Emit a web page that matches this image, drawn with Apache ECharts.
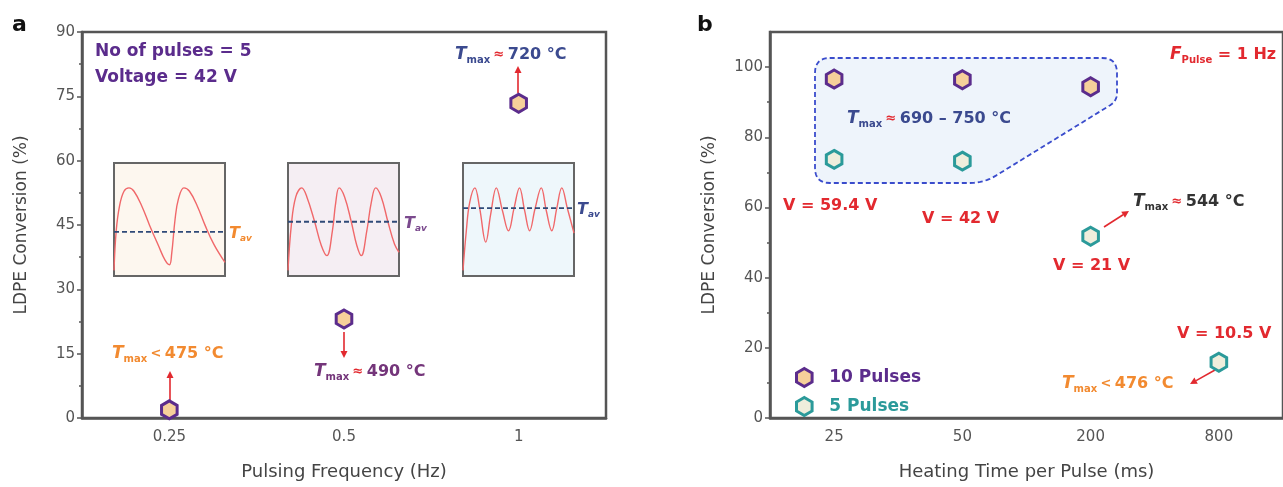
<!DOCTYPE html>
<html>
<head>
<meta charset="utf-8">
<script src="https://cdn.jsdelivr.net/npm/echarts@6/dist/echarts.min.js"></script>
<style>
  html, body { margin: 0; padding: 0; background: #fff; }
  #chart { width: 1283px; height: 487px; }
</style>
</head>
<body>
<div id="chart"></div>
<script>
// ----- panel a : conversion vs pulsing frequency -----
const freqCats = ['0.25', '0.5', '1'];
const freqConv = [1.9, 23.1, 73.4];
const yTicksA = { min: 0, max: 90, interval: 15 };

// ----- panel b : conversion vs heating time per pulse -----
const timeCats = ['25', '50', '200', '800'];
const conv10 = [96.6, 96.4, 94.4, null];
const conv5 = [73.7, 73.2, 51.8, 15.9];
const yTicksB = { min: 0, max: 110, interval: 20 };
const yLabelsB = [0, 20, 40, 60, 80, 100];

// ----- insets : temperature traces (0-100 box units) -----
const wave1 = [[0,5],[2,40],[5,62],[9,75],[13.5,78],[18,75],[25,62],[32,45],[40,27],[46,14],[50,10],
  [52,20],[55,50],[58,68],[63,78],[68,75],[75,62],[82,45],[90,28],[100,12]];
const wave2 = [[0,5],[3,45],[7,70],[12.4,78],[17,70],[24,48],[30,27],[35,18],[40,40],[43,65],[46,78],
  [51,70],[57,48],[62,27],[66,18],[71,40],[75,65],[79,78],[84,70],[90,48],[96,28],[100,21]];
const wave3 = [[0,5],[3,40],[6,65],[10.7,78],[15,60],[20.5,30],[25,55],[30,78],[35.5,58],[41,40],
  [46,60],[50.9,78],[55.5,58],[60,40],[65,60],[70.5,78],[75,58],[80,40],[84.5,60],[89,78],[94,60],[100,38]];
const tavLevels = [39, 48, 60];

const HEX = 'path://M0,-1 L0.866,-0.5 L0.866,0.5 L0,1 L-0.866,0.5 L-0.866,-0.5 Z';
const FONT = '"DejaVu Sans", sans-serif';
const AXIS = '#555';
const PURPLE = '#5b2c8c', TEAL = '#2b9a9a', RED = '#e2292f', ORANGE = '#f28a30', NAVY = '#3b4a8f';

const chart = echarts.init(document.getElementById('chart'));

function mainX(idx, cats, name) {
  return {
    type: 'category', gridIndex: idx, data: cats, boundaryGap: true,
    name: name, nameLocation: 'middle', nameGap: 45,
    nameTextStyle: { fontFamily: FONT, fontSize: 18, color: '#444' },
    axisLine: { lineStyle: { color: AXIS, width: 2.5 } },
    axisTick: { alignWithLabel: true, length: 5, lineStyle: { color: AXIS, width: 1.5 } },
    axisLabel: { fontFamily: FONT, fontSize: 15, color: '#555', margin: 12 }
  };
}
function mainY(idx, t, customTicks) {
  const ax = {
    type: 'value', gridIndex: idx, min: t.min, max: t.max, interval: t.interval,
    name: 'LDPE Conversion (%)', nameLocation: 'middle', nameGap: 52,
    nameTextStyle: { fontFamily: FONT, fontSize: 17, color: '#444' },
    axisLine: { show: true, lineStyle: { color: AXIS, width: 2.5 } },
    axisTick: { show: true, length: 5, lineStyle: { color: AXIS, width: 1.5 } },
    minorTick: { show: true, splitNumber: 2, length: 3, lineStyle: { color: AXIS, width: 1.5 } },
    splitLine: { show: false },
    axisLabel: { fontFamily: FONT, fontSize: 15, color: '#555', margin: 7 }
  };
  if (customTicks) {
    ax.axisTick.customValues = customTicks;
    ax.axisLabel.customValues = customTicks;
  }
  return ax;
}
function insetAxes(idx) {
  return [
    { type: 'value', gridIndex: idx, min: 0, max: 100, show: false },
    { type: 'value', gridIndex: idx, min: 0, max: 100, show: false }
  ];
}

const insetBoxes = [
  { left: 114, bg: '#fdf7ef' },
  { left: 288, bg: '#f5eef3' },
  { left: 463, bg: '#eef7fb' }
];
const waves = [wave1, wave2, wave3];

const grids = [
  { left: 82, top: 32, width: 524, height: 386, show: true, borderColor: AXIS, borderWidth: 2.5 },
  { left: 770, top: 32, width: 520, height: 386, show: true, borderColor: AXIS, borderWidth: 2.5 }
];
insetBoxes.forEach(b => grids.push({ left: b.left, top: 163, width: 111, height: 113, show: true,
  backgroundColor: b.bg, borderColor: '#666', borderWidth: 2, z: 1 }));

const xAxes = [mainX(0, freqCats, 'Pulsing Frequency (Hz)'), mainX(1, timeCats, 'Heating Time per Pulse (ms)')];
const yAxes = [mainY(0, yTicksA), mainY(1, yTicksB, yLabelsB)];
for (let i = 0; i < 3; i++) {
  const [ax, ay] = insetAxes(i + 2);
  xAxes.push(ax); yAxes.push(ay);
}

const hexStyle = (fill, stroke) => ({ color: fill, borderColor: stroke, borderWidth: 3, opacity: 1 });
const series = [
  { type: 'scatter', name: 'a', xAxisIndex: 0, yAxisIndex: 0, data: freqConv, symbol: HEX, symbolKeepAspect: true,
    symbolSize: 18, itemStyle: hexStyle('#f6d09a', PURPLE), z: 5 },
  { type: 'scatter', name: '10 Pulses', xAxisIndex: 1, yAxisIndex: 1, data: conv10, symbol: HEX, symbolKeepAspect: true,
    symbolSize: 18, itemStyle: hexStyle('#f6d09a', PURPLE), z: 5 },
  { type: 'scatter', name: '5 Pulses', xAxisIndex: 1, yAxisIndex: 1, data: conv5, symbol: HEX, symbolKeepAspect: true,
    symbolSize: 18, itemStyle: hexStyle('#efeedc', TEAL), z: 5 }
];
waves.forEach((w, i) => {
  series.push({ type: 'line', xAxisIndex: i + 2, yAxisIndex: i + 2, data: w, smooth: 0.4, showSymbol: false,
    lineStyle: { color: '#f0686a', width: 1.4 }, z: 3, silent: true });
  series.push({ type: 'line', xAxisIndex: i + 2, yAxisIndex: i + 2, data: [[0, tavLevels[i]], [100, tavLevels[i]]],
    showSymbol: false, lineStyle: { color: '#2f4a78', width: 1.8, type: [5, 3] }, z: 4, silent: true });
});

// ---------- annotations ----------
function tmax(x, y, rel, value, col) {
  return {
    type: 'text', x: x, y: y, z: 20,
    style: {
      text: '{t|T}{s|max} {r|' + rel + '} {v|' + value + '}',
      textVerticalAlign: 'middle',
      rich: {
        t: { fontFamily: FONT, fontSize: 17, fontStyle: 'italic', fontWeight: 'bold', fill: col },
        s: { fontFamily: FONT, fontSize: 10, fontWeight: 'bold', fill: col, padding: [11, 0, 0, 0] },
        r: { fontFamily: FONT, fontSize: 13, fontWeight: 'bold', fill: rel === '≈' ? RED : col },
        v: { fontFamily: FONT, fontSize: 16, fontWeight: 'bold', fill: col }
      }
    }
  };
}
function plain(x, y, text, col, size) {
  return { type: 'text', x: x, y: y, z: 20,
    style: { text: text, fill: col, font: 'bold ' + size + 'px ' + FONT, textVerticalAlign: 'middle' } };
}
function tav(x, y, col) {
  return { type: 'text', x: x, y: y, z: 20, style: { text: '{t|T}{s|av}', textVerticalAlign: 'middle',
    rich: { t: { fontFamily: FONT, fontSize: 16, fontStyle: 'italic', fontWeight: 'bold', fill: col },
            s: { fontFamily: FONT, fontSize: 9, fontStyle: 'italic', fontWeight: 'bold', fill: col, padding: [10, 0, 0, 0] } } } };
}
function arrow(x1, y1, x2, y2) {
  const a = Math.atan2(y2 - y1, x2 - x1), L = 7, W = 3.5;
  const bx = x2 - L * Math.cos(a), by = y2 - L * Math.sin(a);
  return { type: 'group', z: 20, children: [
    { type: 'line', shape: { x1: x1, y1: y1, x2: bx, y2: by }, style: { stroke: RED, lineWidth: 1.6 } },
    { type: 'polygon', shape: { points: [[x2, y2],
      [bx + W * Math.sin(a), by - W * Math.cos(a)], [bx - W * Math.sin(a), by + W * Math.cos(a)]] },
      style: { fill: RED } }
  ] };
}
// rounded outline: list of [x, y, r] corners, sampled into a polygon
function roundedPoly(corners) {
  const pts = [], n = corners.length;
  for (let i = 0; i < n; i++) {
    const p = corners[(i + n - 1) % n], c = corners[i], q = corners[(i + 1) % n], r = c[2];
    const d1 = Math.hypot(p[0] - c[0], p[1] - c[1]), d2 = Math.hypot(q[0] - c[0], q[1] - c[1]);
    const a = [c[0] + (p[0] - c[0]) * r / d1, c[1] + (p[1] - c[1]) * r / d1];
    const b = [c[0] + (q[0] - c[0]) * r / d2, c[1] + (q[1] - c[1]) * r / d2];
    for (let k = 0; k <= 8; k++) {
      const t = k / 8;
      pts.push([(1 - t) * (1 - t) * a[0] + 2 * t * (1 - t) * c[0] + t * t * b[0],
                (1 - t) * (1 - t) * a[1] + 2 * t * (1 - t) * c[1] + t * t * b[1]]);
    }
  }
  return pts;
}

const graphic = [
  plain(12, 25, 'a', '#111', 22),
  plain(697, 25, 'b', '#111', 22),
  plain(95, 52, 'No of pulses = 5', PURPLE, 17),
  plain(95, 78, 'Voltage = 42 V', PURPLE, 17),
  tmax(455, 55, '≈', '720 °C', NAVY),
  arrow(518, 93, 518, 66),
  tmax(112, 354, '<', '475 °C', ORANGE),
  arrow(170, 403, 170, 371),
  tmax(314, 372, '≈', '490 °C', '#74357a'),
  arrow(344, 332, 344, 358),
  tav(229, 234, ORANGE),
  tav(404, 224, '#7b4a8e'),
  tav(577, 210, NAVY),
  // dashed envelope around the high-temperature points
  { type: 'polygon', z: 1,
    shape: { points: roundedPoly([[815, 58, 15], [1117, 58, 15], [1117, 101, 8], [984, 183, 14], [815, 183, 15]]) },
    style: { fill: '#eef4fb', stroke: '#3a4ccc', lineWidth: 1.8, lineDash: [5, 3] } },
  tmax(847, 119, '≈', '690 – 750 °C', NAVY),
  { type: 'text', x: 1170, y: 55, z: 20, style: { text: '{t|F}{s|Pulse}{v| = 1 Hz}', textVerticalAlign: 'middle',
    rich: { t: { fontFamily: FONT, fontSize: 17, fontStyle: 'italic', fontWeight: 'bold', fill: RED },
            s: { fontFamily: FONT, fontSize: 10, fontWeight: 'bold', fill: RED, padding: [11, 0, 0, 0] },
            v: { fontFamily: FONT, fontSize: 16, fontWeight: 'bold', fill: RED } } } },
  plain(783, 206, 'V = 59.4 V', RED, 16),
  plain(922, 219, 'V = 42 V', RED, 16),
  plain(1053, 266, 'V = 21 V', RED, 16),
  tmax(1133, 202, '≈', '544 °C', '#333'),
  arrow(1104, 227, 1129, 211),
  plain(1177, 334, 'V = 10.5 V', RED, 16),
  tmax(1062, 384, '<', '476 °C', ORANGE),
  arrow(1215, 370, 1190, 384)
];

chart.setOption({
  animation: false,
  backgroundColor: '#fff',
  grid: grids,
  xAxis: xAxes,
  yAxis: yAxes,
  legend: {
    orient: 'vertical', left: 790, top: 362, itemWidth: 16, itemHeight: 18, itemGap: 8,
    icon: HEX,
    itemStyle: { borderWidth: 3, opacity: 1 },
    data: [
      { name: '10 Pulses', textStyle: { color: PURPLE } },
      { name: '5 Pulses', textStyle: { color: TEAL } }
    ],
    textStyle: { fontFamily: FONT, fontSize: 17, fontWeight: 'bold', padding: [0, 0, 0, 12] }
  },
  series: series,
  graphic: graphic
});
</script>
</body>
</html>
